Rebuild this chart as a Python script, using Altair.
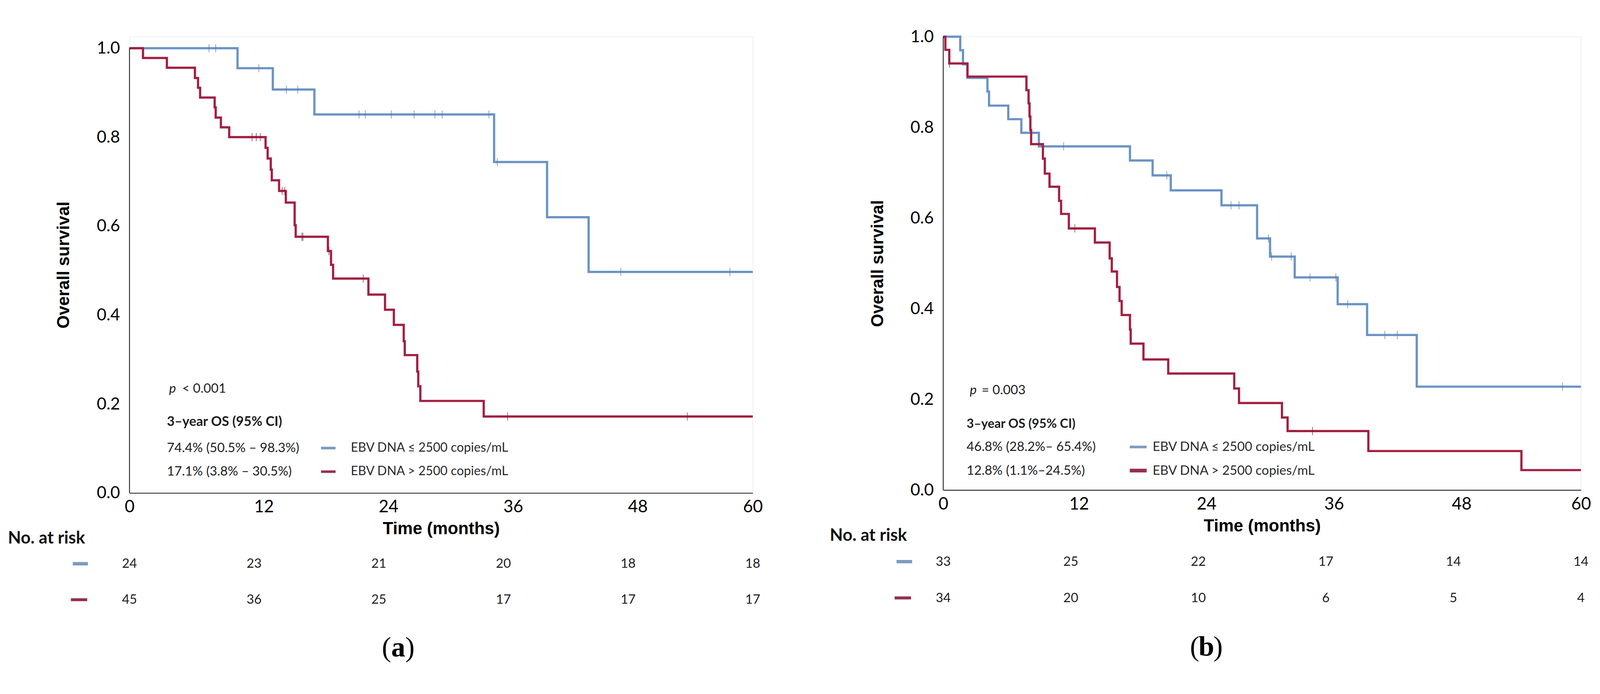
import altair as alt
import pandas as pd

# ---------------- data ----------------
GROUPS = ["EBV DNA \u2264 2500 copies/mL", "EBV DNA > 2500 copies/mL"]
RISK_TIMES = [0, 12, 24, 36, 48, 60]

# Panel (a)
A_BLUE_T = [0, 10.4, 13.8, 17.8, 35.1, 40.2, 44.2, 60]
A_BLUE_S = [1.0, 0.955, 0.907, 0.851, 0.744, 0.620, 0.497, 0.497]
A_BLUE_CENS_T = [7.65, 8.3, 12.45, 15.1, 16.2, 22.1, 22.7, 25.2, 27.4, 29.4, 30.1, 34.6, 35.4, 47.3, 57.8]
A_BLUE_CENS_S = [1.0, 1.0, 0.955, 0.907, 0.907, 0.851, 0.851, 0.851, 0.851, 0.851, 0.851, 0.851, 0.744, 0.497, 0.497]
A_RED_T = [0, 1.3, 3.6, 6.3, 6.6, 6.8, 8.2, 8.3, 8.8, 9.6, 13.1, 13.3, 13.6, 13.7, 14.4, 15.05,
           15.9, 16.0, 19.1, 19.4, 19.6, 23.0, 24.6, 25.45, 26.4, 26.5, 27.7, 27.8, 28.0, 34.1, 60]
A_RED_S = [1.0, 0.978, 0.956, 0.933, 0.911, 0.889, 0.867, 0.844, 0.822, 0.800, 0.776, 0.752, 0.727,
           0.703, 0.679, 0.653, 0.602, 0.576, 0.544, 0.513, 0.482, 0.446, 0.412, 0.378, 0.341, 0.310,
           0.273, 0.240, 0.207, 0.172, 0.172]
A_RED_CENS_T = [11.8, 12.2, 12.6, 14.7, 14.95, 16.6, 16.7, 19.2, 22.5, 36.4, 53.7]
A_RED_CENS_S = [0.800, 0.800, 0.800, 0.679, 0.679, 0.576, 0.576, 0.544, 0.482, 0.172, 0.172]
A_RISK_BLUE = [24, 23, 21, 20, 18, 18]
A_RISK_RED = [45, 36, 25, 17, 17, 17]
A_OS = ["74.4% (50.5% \u2013 98.3%)", "17.1% (3.8% \u2013 30.5%)"]
A_P = "< 0.001"

# Panel (b)
B_BLUE_T = [0, 1.6, 1.86, 2.28, 4.16, 4.31, 6.12, 7.35, 9.0, 17.57, 19.7, 21.41, 26.18, 29.53,
            30.75, 33.07, 37.11, 39.88, 44.55, 60]
B_BLUE_S = [1.0, 0.970, 0.939, 0.909, 0.879, 0.848, 0.818, 0.788, 0.758, 0.727, 0.694, 0.661,
            0.628, 0.555, 0.515, 0.469, 0.410, 0.342, 0.228, 0.228]
B_BLUE_CENS_T = [11.33, 21.04, 27.08, 27.83, 30.6, 30.9, 32.74, 34.51, 36.94, 38.06, 41.55, 42.72, 58.27]
B_BLUE_CENS_S = [0.758, 0.694, 0.628, 0.628, 0.555, 0.515, 0.515, 0.469, 0.469, 0.410, 0.342, 0.342, 0.228]
B_RED_T = [0, 0.2, 0.57, 2.28, 7.83, 8.03, 8.12, 8.2, 8.27, 9.38, 9.56, 10.0, 10.9, 11.09, 11.82,
           14.27, 15.66, 15.86, 16.35, 16.59, 16.79, 17.57, 17.64, 18.84, 21.17, 27.38, 27.83,
           31.87, 32.4, 40.0, 54.4, 60]
B_RED_S = [1.0, 0.971, 0.941, 0.912, 0.882, 0.853, 0.824, 0.794, 0.763, 0.731, 0.698, 0.669,
           0.638, 0.609, 0.577, 0.546, 0.511, 0.482, 0.448, 0.417, 0.386, 0.354, 0.323, 0.288,
           0.257, 0.224, 0.192, 0.160, 0.130, 0.086, 0.044, 0.044]
B_RED_CENS_T = [0.6, 12.38, 34.74]
B_RED_CENS_S = [0.941, 0.577, 0.130]
B_RISK_BLUE = [33, 25, 22, 17, 14, 14]
B_RISK_RED = [34, 20, 10, 6, 5, 4]
B_OS = ["46.8% (28.2%\u2013 65.4%)", "12.8% (1.1%\u201324.5%)"]
B_P = "= 0.003"

# ---------------- styling ----------------
BLUE = "#6a93c5"
RED = "#a31f42"
BLUE_TICK = "#55799f"
RED_TICK = "#7d1733"
BLUE_DASH = "#7b9cc2"
RED_DASH = "#973050"
TXT = "#1e1e1e"
SANS = "Lato"


def panel(d, g, width, height, ymax):
    x_enc = alt.X(
        "t:Q",
        scale=alt.Scale(domain=[0, 60], nice=False, zero=False),
        axis=alt.Axis(
            values=RISK_TIMES, title="Time (months)", grid=False, ticks=False, tickSize=0,
            labelFlush=False, labelOverlap=False, labelPadding=16, titlePadding=14,
            labelOffset={"condition": {"test": "datum.value > 0 && datum.value < 60",
                                       "value": g["xlab_off"]}, "value": 0},
            domainColor="#000", domainWidth=2, labelFont=SANS, labelFontSize=46,
            labelColor="#000", titleFont="Liberation Sans", titleFontSize=46,
            titleFontWeight="bold", titleColor="#000",
        ),
    )
    y_enc = alt.Y(
        "s:Q",
        scale=alt.Scale(domain=[0, ymax], nice=False, zero=False),
        axis=alt.Axis(
            values=[0, 0.2, 0.4, 0.6, 0.8, 1.0], format=".1f", title="Overall survival",
            grid=False, ticks=False, tickSize=0, domain=False, labelFlush=False,
            labelOverlap=False, labelPadding=26, titlePadding=64, labelFont=SANS,
            labelFontSize=45, labelColor="#000", titleFont="Liberation Sans",
            titleFontSize=46, titleFontWeight="bold", titleColor="#000",
        ),
    )

    blue = alt.Chart(pd.DataFrame({"t": d["bt"], "s": d["bs"]})).mark_line(
        interpolate="step-after", strokeWidth=6, color=BLUE).encode(x=x_enc, y=y_enc)
    red = alt.Chart(pd.DataFrame({"t": d["rt"], "s": d["rs"]})).mark_line(
        interpolate="step-after", strokeWidth=6, color=RED).encode(x="t:Q", y="s:Q")
    bcens = alt.Chart(pd.DataFrame({"t": d["bct"], "s": d["bcs"]})).mark_tick(
        orient="vertical", size=22, thickness=2, color=BLUE_TICK).encode(x="t:Q", y="s:Q")
    rcens = alt.Chart(pd.DataFrame({"t": d["rct"], "s": d["rcs"]})).mark_tick(
        orient="vertical", size=22, thickness=2, color=RED_TICK).encode(x="t:Q", y="s:Q")

    yline = alt.Chart(pd.DataFrame({"t": [0], "s": [0], "s2": [1.0]})).mark_rule(
        color="#000", strokeWidth=2).encode(x="t:Q", y="s:Q", y2="s2:Q")

    # p-value
    p_it = alt.Chart(pd.DataFrame({"t": [g["p_t"]], "s": [g["p_s"]], "label": ["p"]})).mark_text(
        align="left", baseline="middle", font=SANS, fontSize=35, fontStyle="italic", color=TXT
    ).encode(x="t:Q", y="s:Q", text="label:N")
    p_rest = alt.Chart(pd.DataFrame({"t": [g["p_t"]], "s": [g["p_s"]], "label": [d["p"]]})).mark_text(
        align="left", baseline="middle", font=SANS, fontSize=35, color=TXT, dx=g["p_dx"]
    ).encode(x="t:Q", y="s:Q", text="label:N")
    hdr = alt.Chart(pd.DataFrame({"t": [g["txt_t"]], "s": [g["hdr_s"]],
                                  "label": ["3\u2013year OS (95% CI)"]})).mark_text(
        align="left", baseline="middle", font=SANS, fontSize=g["hdr_fs"], fontWeight="bold", color=TXT
    ).encode(x="t:Q", y="s:Q", text="label:N")
    rows = alt.Chart(pd.DataFrame({"t": [g["txt_t"]] * 2, "s": g["row_s"], "label": d["os"]})).mark_text(
        align="left", baseline="middle", font=SANS, fontSize=35, color=TXT
    ).encode(x="t:Q", y="s:Q", text="label:N")

    # in-plot legend
    ldash_b = alt.Chart(pd.DataFrame({"t": [g["dash"][0]], "t2": [g["dash"][1]], "s": [g["row_s"][0]]})
                        ).mark_rule(color=BLUE_DASH, strokeWidth=7).encode(x="t:Q", x2="t2:Q", y="s:Q")
    ldash_r = alt.Chart(pd.DataFrame({"t": [g["dash"][0]], "t2": [g["dash"][1]], "s": [g["row_s"][1]]})
                        ).mark_rule(color=RED_DASH, strokeWidth=g["rdash_w"]).encode(x="t:Q", x2="t2:Q", y="s:Q")
    ltxt = alt.Chart(pd.DataFrame({"t": [g["leg_t"]] * 2, "s": g["row_s"], "label": GROUPS})).mark_text(
        align="left", baseline="middle", font=SANS, fontSize=g["leg_fs"], color="#2a2a2a"
    ).encode(x="t:Q", y="s:Q", text="label:N")

    # risk table
    nar = alt.Chart(pd.DataFrame({"t": [g["nar_t"]], "s": [g["nar_s"]], "label": ["No. at risk"]})).mark_text(
        align="left", baseline="middle", font=SANS, fontSize=46, fontWeight="bold", color="#111"
    ).encode(x="t:Q", y="s:Q", text="label:N")
    rk = pd.DataFrame({
        "t": RISK_TIMES + RISK_TIMES,
        "s": [g["risk_s"][0]] * 6 + [g["risk_s"][1]] * 6,
        "label": [str(v) for v in d["risk_b"] + d["risk_r"]],
    })
    risk = alt.Chart(rk).mark_text(
        align="center", baseline="middle", font=SANS, fontSize=35, color=TXT
    ).encode(x="t:Q", y="s:Q", text="label:N")
    rdash_b = alt.Chart(pd.DataFrame({"t": [g["rd_b"][0]], "t2": [g["rd_b"][1]], "s": [g["risk_s"][0]]})
                        ).mark_rule(color=BLUE_DASH, strokeWidth=9).encode(x="t:Q", x2="t2:Q", y="s:Q")
    rdash_r = alt.Chart(pd.DataFrame({"t": [g["rd_r"][0]], "t2": [g["rd_r"][1]], "s": [g["risk_s"][1]]})
                        ).mark_rule(color=RED_DASH, strokeWidth=8).encode(x="t:Q", x2="t2:Q", y="s:Q")

    # panel letter: "(" + bold letter + ")"
    ldf = pd.DataFrame({"t": [g["let_t"]], "s": [g["let_s"]]})
    let_mid = alt.Chart(ldf.assign(label=[d["letter"]])).mark_text(
        align="center", baseline="middle", font="Liberation Serif", fontSize=76, fontWeight="bold", color="#000"
    ).encode(x="t:Q", y="s:Q", text="label:N")
    let_l = alt.Chart(ldf.assign(label=["("])).mark_text(
        align="right", baseline="middle", font="Liberation Serif", fontSize=76, color="#000", dx=-19
    ).encode(x="t:Q", y="s:Q", text="label:N")
    let_r = alt.Chart(ldf.assign(label=[")"])).mark_text(
        align="left", baseline="middle", font="Liberation Serif", fontSize=76, color="#000", dx=19
    ).encode(x="t:Q", y="s:Q", text="label:N")

    return alt.layer(
        blue, red, bcens, rcens, yline, p_it, p_rest, hdr, rows, ldash_b, ldash_r, ltxt,
        nar, risk, rdash_b, rdash_r, let_mid, let_l, let_r,
    ).properties(width=width, height=height)


data_a = dict(bt=A_BLUE_T, bs=A_BLUE_S, bct=A_BLUE_CENS_T, bcs=A_BLUE_CENS_S,
              rt=A_RED_T, rs=A_RED_S, rct=A_RED_CENS_T, rcs=A_RED_CENS_S,
              risk_b=A_RISK_BLUE, risk_r=A_RISK_RED, os=A_OS, p=A_P, letter="a")
data_b = dict(bt=B_BLUE_T, bs=B_BLUE_S, bct=B_BLUE_CENS_T, bcs=B_BLUE_CENS_S,
              rt=B_RED_T, rs=B_RED_S, rct=B_RED_CENS_T, rcs=B_RED_CENS_S,
              risk_b=B_RISK_BLUE, risk_r=B_RISK_RED, os=B_OS, p=B_P, letter="b")

geo_a = dict(p_t=3.82, p_s=0.235, p_dx=35, txt_t=3.6, hdr_s=0.160, hdr_fs=36, row_s=[0.101, 0.048],
             dash=(18.44, 19.84), rdash_w=7, leg_t=21.3, leg_fs=34, nar_t=-11.7, nar_s=-0.102,
             risk_s=[-0.159, -0.240], rd_b=(-5.46, -4.0), rd_r=(-5.64, -4.07),
             let_t=25.87, let_s=-0.348, xlab_off=26)
geo_b = dict(p_t=2.5, p_s=0.220, p_dx=32, txt_t=2.2, hdr_s=0.145, hdr_fs=34, row_s=[0.095, 0.043],
             dash=(17.55, 19.14), rdash_w=10, leg_t=19.7, leg_fs=35, nar_t=-10.67, nar_s=-0.101,
             risk_s=[-0.158, -0.238], rd_b=(-4.39, -2.93), rd_r=(-4.57, -3.03),
             let_t=24.76, let_s=-0.347, xlab_off=22)

pa = panel(data_a, geo_a, 1682, 1231, 1231 / 1200)
pb = panel(data_b, geo_b, 1721, 1223, 1.0)

# plot areas placed explicitly: panel (a) plot origin at page (349, 51)
chart = alt.hconcat(pa, pb, spacing=514, bounds="flush").properties(
    autosize=alt.AutoSizeParams(type="none"),
    padding={"left": 341, "top": 43, "right": 3960, "bottom": 1712},
).configure_view(stroke=None).configure(background="white")

chart.save("out.html", embed_options={"renderer": "svg", "actions": False})
